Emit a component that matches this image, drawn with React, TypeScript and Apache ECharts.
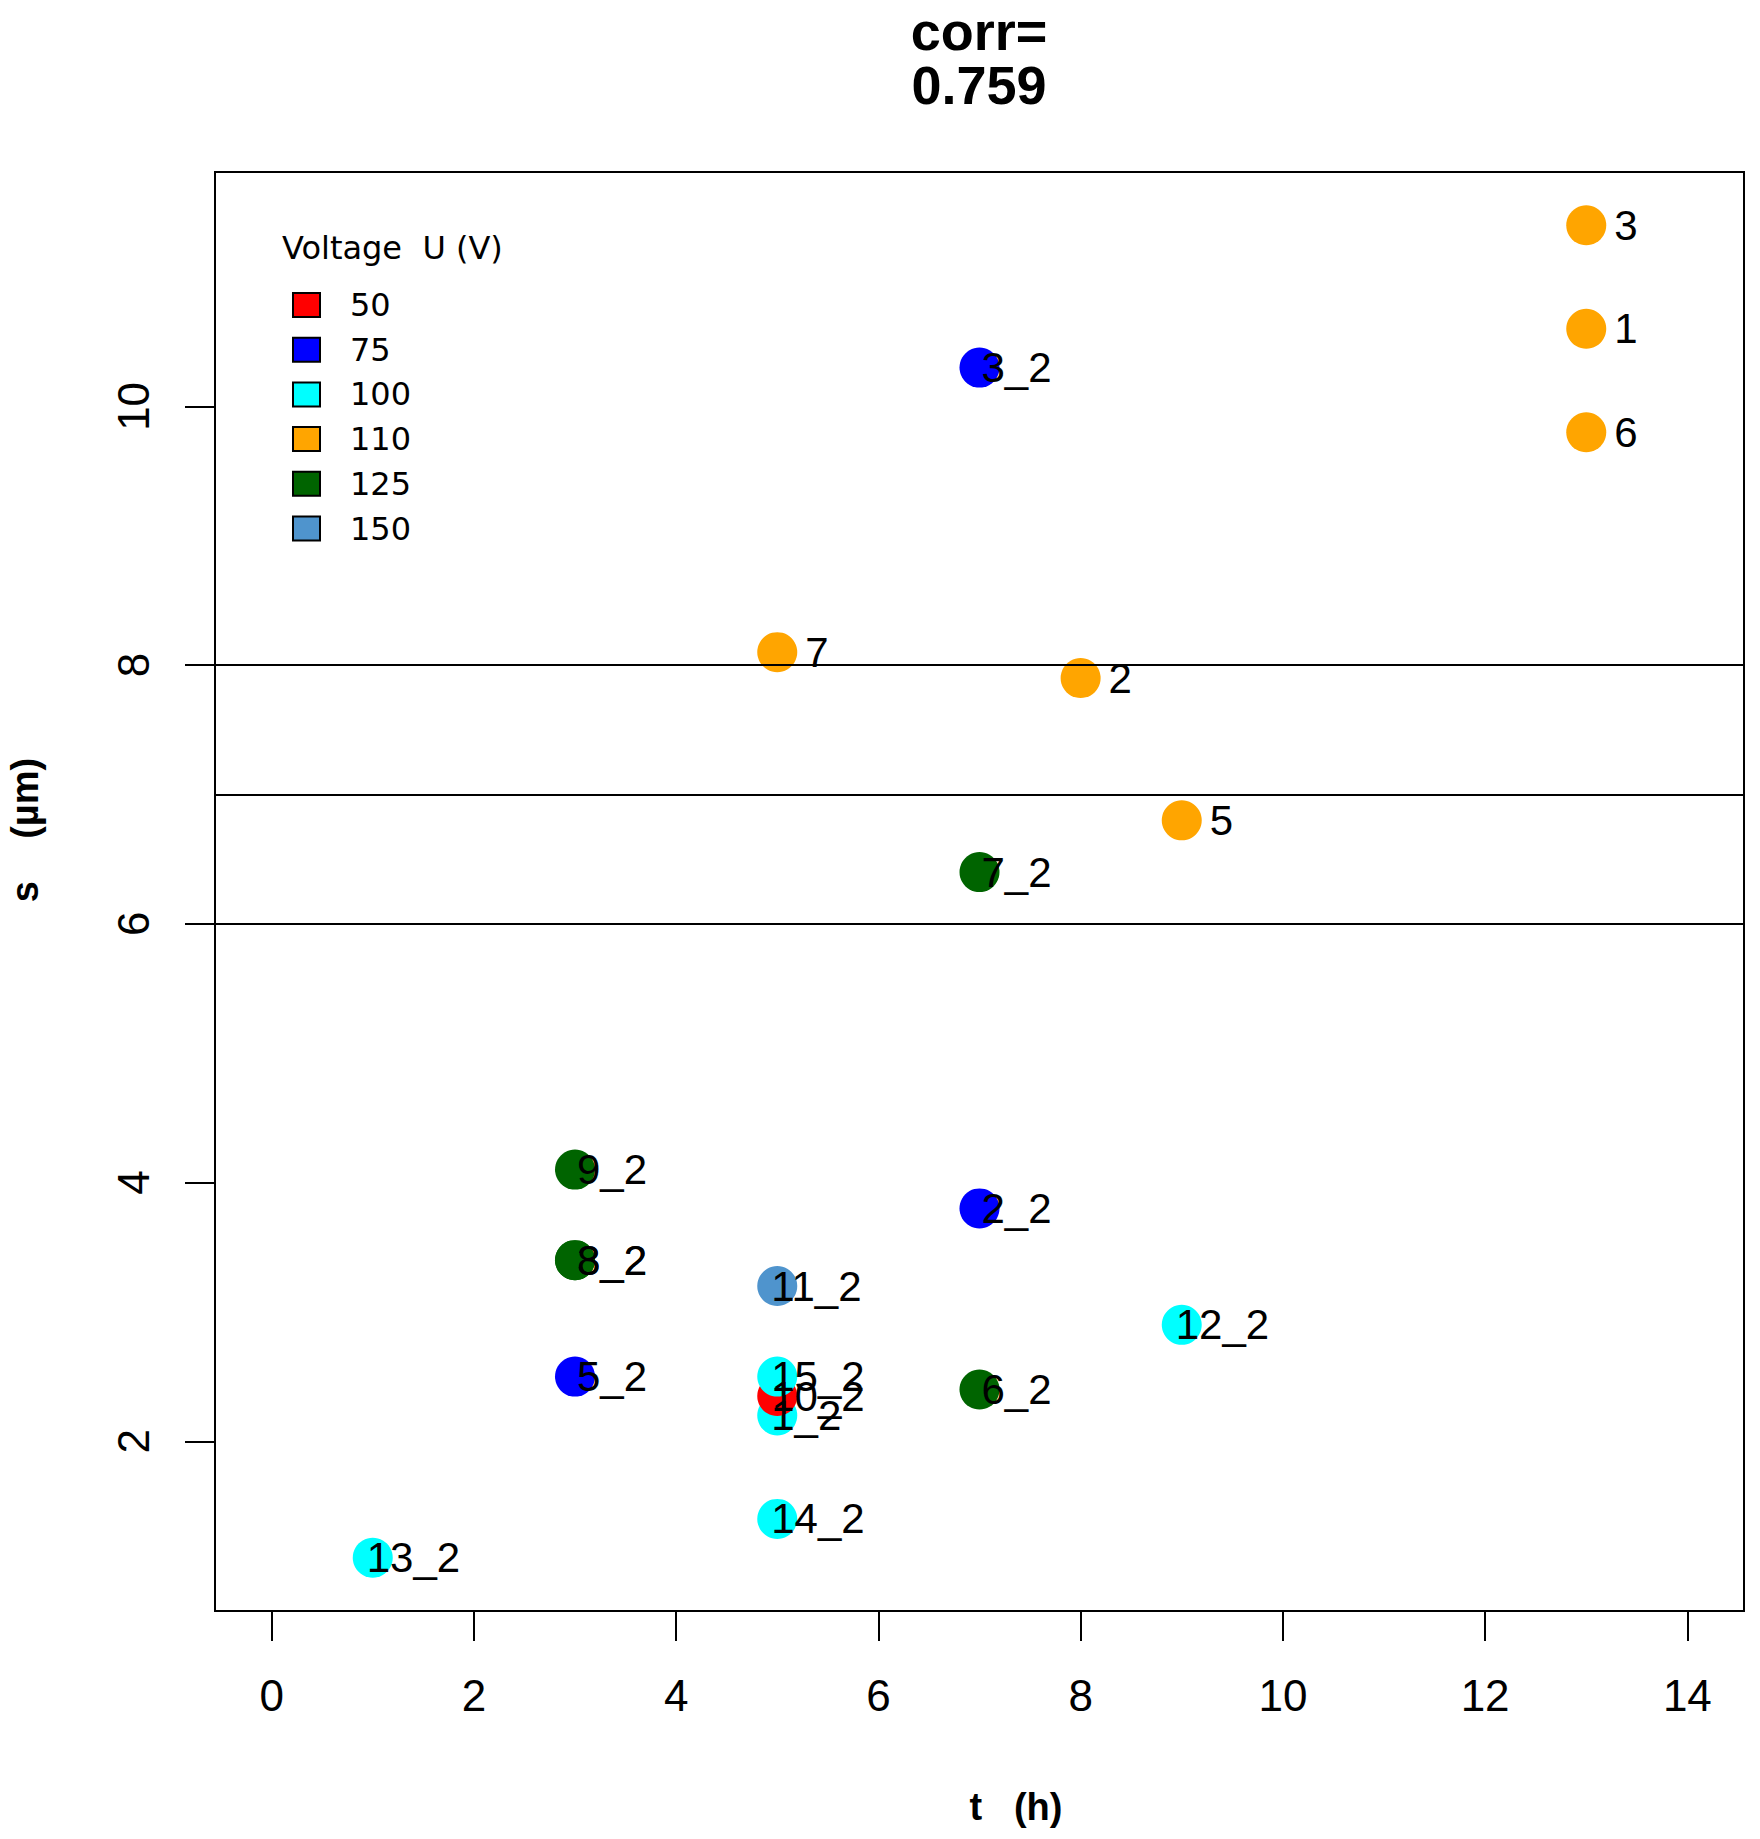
import React, { useEffect, useRef } from "react";
import * as echarts from "echarts";

// ---- data ----
const voltageLevels = ["50", "75", "100", "110", "125", "150"];
const levelColors = ["#FF0000", "#0000FF", "#00FFFF", "#FFA500", "#006400", "#4F94CD"];

// points in plotting order
const pointLabels = ["1", "2", "3", "5", "6", "7", "1_2", "2_2", "3_2", "3_2", "10_2", "11_2", "12_2", "13_2", "14_2", "15_2", "5_2", "6_2", "7_2", "8_2", "9_2"];
const pointVoltage = ["110", "110", "110", "110", "110", "110", "100", "75", "75", "125", "50", "150", "100", "100", "100", "100", "75", "125", "125", "125", "125"];
const timeH = [13, 8, 13, 9, 13, 5, 5, 7, 7, 3, 5, 5, 9, 1, 5, 5, 3, 7, 7, 3, 3];
const sUm = [10.6, 7.9, 11.4, 6.8, 9.8, 8.1, 2.2, 3.8, 10.3, 3.4, 2.35, 3.2, 2.9, 1.1, 1.4, 2.5, 2.5, 2.4, 6.4, 3.4, 4.1];

const xTicks = [0, 2, 4, 6, 8, 10, 12, 14];
const yTicks = [2, 4, 6, 8, 10];
const refLines = [8, 7, 6];
const titleLines = ["corr=", "0.759"];
const xName = "t   (h)";
const yName = "s    (\u00b5m)";
const legendTitle = "Voltage  U (V)";

const AX_FONT = "Liberation Sans, Arial, sans-serif";

function buildSeries() {
  const runs: any[] = [];
  for (let i = 0; i < pointLabels.length; i++) {
    const v = pointVoltage[i];
    let last = runs[runs.length - 1];
    if (!last || last.name !== v) {
      last = { name: v, data: [] as any[] };
      runs.push(last);
    }
    const lbl = pointLabels[i];
    const isSecond = lbl.indexOf("_") >= 0;
    const startsWithOne = lbl.charAt(0) === "1";
    last.data.push({
      value: [timeH[i], sUm[i]],
      name: lbl,
      label: {
        distance: isSecond ? (startsWithOne ? -26 : -18) : 8,
        offset: [0, isSecond ? -12 : -9],
      },
    });
  }
  return runs.map((r, idx) => ({
    type: "scatter",
    name: r.name,
    data: r.data,
    symbol: "circle",
    symbolSize: 40,
    itemStyle: { color: levelColors[voltageLevels.indexOf(r.name)], opacity: 1 },
    emphasis: { disabled: true },
    label: {
      show: true,
      position: "right",
      formatter: (p: any) => p.name,
      fontFamily: AX_FONT,
      fontSize: 42,
      color: "#000",
    },
    labelLayout: { hideOverlap: false },
    markLine:
      idx === 0
        ? {
            silent: true,
            symbol: ["none", "none"],
            label: { show: false },
            lineStyle: { color: "#000", width: 2, type: "solid" },
            emphasis: { disabled: true },
            data: refLines.map((y) => ({ yAxis: y })),
          }
        : undefined,
  }));
}

export default function App() {
  const ref = useRef<HTMLDivElement>(null);

  useEffect(() => {
    document.body.style.margin = "0";
    const chart = echarts.init(ref.current!, undefined, { renderer: "svg" });
    const option: any = {
      animation: false,
      backgroundColor: "#fff",
      grid: {
        left: 215,
        top: 172,
        width: 1529,
        height: 1439,
        show: true,
        borderColor: "#000",
        borderWidth: 2,
        backgroundColor: "transparent",
      },
      xAxis: {
        type: "value",
        min: -0.56,
        max: 14.56,
        axisLine: { show: true, onZero: false, lineStyle: { color: "#000", width: 2 } },
        axisTick: { show: true, customValues: xTicks, length: 30, lineStyle: { color: "#000", width: 2 } },
        axisLabel: { customValues: xTicks, margin: 62, fontFamily: AX_FONT, fontSize: 44, color: "#000" },
        splitLine: { show: false },
      },
      yAxis: {
        type: "value",
        min: 0.688,
        max: 11.812,
        axisLine: { show: true, onZero: false, lineStyle: { color: "#000", width: 2 } },
        axisTick: { show: true, customValues: yTicks, length: 30, lineStyle: { color: "#000", width: 2 } },
        axisLabel: { customValues: yTicks, rotate: 90, margin: 60, fontFamily: AX_FONT, fontSize: 44, color: "#000" },
        splitLine: { show: false },
      },
      legend: {
        data: voltageLevels,
        orient: "vertical",
        left: 292,
        top: 289,
        padding: 0,
        itemWidth: 27,
        itemHeight: 24,
        itemGap: 12.7,
        icon: "rect",
        selectedMode: false,
        itemStyle: { borderColor: "#000", borderWidth: 2 },
        textStyle: {
          fontFamily: "DejaVu Sans, sans-serif",
          fontSize: 32,
          color: "#000",
          padding: [0, 0, 0, 25],
        },
      },
      graphic: [
        {
          type: "text",
          x: 979,
          y: 31,
          style: { text: titleLines[0], font: "bold 54px Liberation Sans, Arial, sans-serif", fill: "#000", textAlign: "center", textVerticalAlign: "middle" },
        },
        {
          type: "text",
          x: 979,
          y: 85,
          style: { text: titleLines[1], font: "bold 54px Liberation Sans, Arial, sans-serif", fill: "#000", textAlign: "center", textVerticalAlign: "middle" },
        },
        {
          type: "text",
          x: 1016,
          y: 1807,
          style: { text: xName, font: "bold 38px Liberation Sans, Arial, sans-serif", fill: "#000", textAlign: "center", textVerticalAlign: "middle" },
        },
        {
          type: "text",
          x: 25,
          y: 830,
          rotation: Math.PI / 2,
          style: { text: yName, font: "bold 38px Liberation Sans, Arial, sans-serif", fill: "#000", textAlign: "center", textVerticalAlign: "middle" },
        },
        {
          type: "text",
          x: 282,
          y: 248,
          style: { text: legendTitle, font: "32px DejaVu Sans, sans-serif", fill: "#000", textAlign: "left", textVerticalAlign: "middle" },
        },
      ],
      series: buildSeries(),
    };
    chart.setOption(option);
    return () => {
      chart.dispose();
    };
  }, []);

  return <div ref={ref} style={{ width: 1760, height: 1839 }} />;
}
